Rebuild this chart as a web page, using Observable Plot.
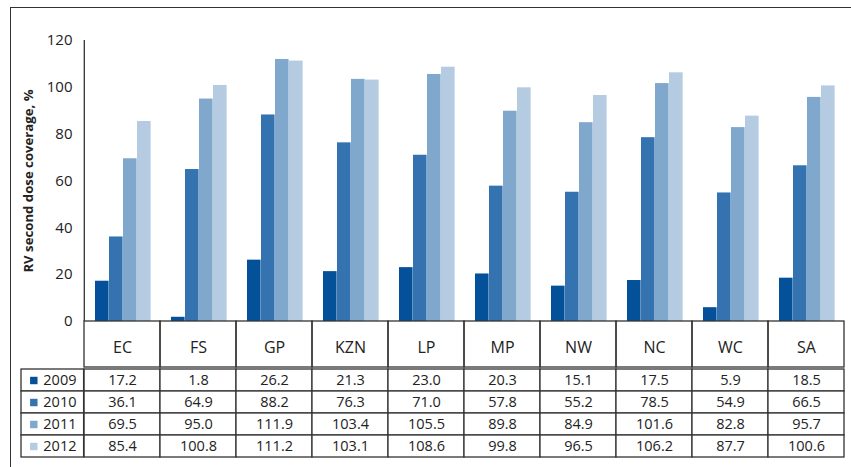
<!DOCTYPE html>
<html><head><meta charset="utf-8">
<script src="https://cdn.jsdelivr.net/npm/d3@7"></script>
<script src="https://cdn.jsdelivr.net/npm/@observablehq/plot@0.6"></script>
<style>
body{margin:0;background:#fff;font-family:"Open Sans",sans-serif;}
#wrap{position:relative;width:851px;height:467px;overflow:hidden;background:#fff;}
#border{position:absolute;left:10px;top:7px;right:-2px;bottom:-2px;border-left:1.3px solid #333;border-top:1.3px solid #333;}
#chart{position:absolute;left:0;top:0;}
#table{position:absolute;left:0;top:366px;}
svg{overflow:visible;}
</style></head><body>
<div id="wrap"><div id="border"></div><div id="chart"></div><div id="table"></div></div>
<script>
const categories = ["EC","FS","GP","KZN","LP","MP","NW","NC","WC","SA"];
const years = ["2009","2010","2011","2012"];
const v2009 = [17.2,1.8,26.2,21.3,23.0,20.3,15.1,17.5,5.9,18.5];
const v2010 = [36.1,64.9,88.2,76.3,71.0,57.8,55.2,78.5,54.9,66.5];
const v2011 = [69.5,95.0,111.9,103.4,105.5,89.8,84.9,101.6,82.8,95.7];
const v2012 = [85.4,100.8,111.2,103.1,108.6,99.8,96.5,106.2,87.7,100.6];
const yTicks = [0,20,40,60,80,100,120];
const colors = ["#04519a","#3473b0","#80a7cc","#b4cbe2"];
const yLabel = "RV second dose coverage, %";

const series = [v2009, v2010, v2011, v2012];
const rows = years.flatMap((y, i) => categories.map((c, j) => ({year: y, cat: c, value: series[i][j], idx: i})));

const W = 851, mL = 82, mR = 5;
const band = (W - mL - mR) / categories.length;
const barW = 14, groupOff = 11;
const ink = "#333";

const barMarks = years.map((y, i) => Plot.barY(rows.filter(d => d.idx === i), {
  x: "cat", y: "value", fill: colors[i],
  insetLeft: groupOff + barW * i,
  insetRight: band - groupOff - barW * (i + 1)
}));

const chart = Plot.plot({
  width: W, height: 367,
  marginTop: 40, marginBottom: 46, marginLeft: mL, marginRight: mR,
  style: {fontFamily: "Open Sans", background: "transparent"},
  x: {type: "band", domain: categories, padding: 0, axis: null},
  y: {domain: [0, 120], axis: null},
  marks: [
    ...barMarks,
    Plot.barY(categories, {x: d => d, y1: 0, y2: 0, insetBottom: -46, fill: "none", stroke: ink, strokeWidth: 1.3}),
    Plot.ruleX([0], {x: () => categories[0], dx: -band / 2, y1: 0, y2: 120, stroke: ink, strokeWidth: 1.3}),
    Plot.axisY({ticks: yTicks, tickSize: 0, tickPadding: 10, fontSize: 15, label: null, fill: "#222"}),
    Plot.axisX({tickSize: 0, tickPadding: 20, fontSize: 16, label: null, fill: "#222"}),
    Plot.text([yLabel], {frameAnchor: "left", textAnchor: "middle", dx: -54, rotate: -90, fontSize: 13.2, fontWeight: "bold", fill: "#222"})
  ]
});
document.getElementById("chart").append(chart);

const table = Plot.plot({
  width: W, height: 101,
  marginTop: 1, marginBottom: 9, marginLeft: mL, marginRight: mR,
  style: {fontFamily: "Open Sans", background: "transparent"},
  x: {type: "band", domain: categories, padding: 0, axis: null},
  y: {type: "band", domain: years, padding: 0, axis: null},
  marks: [
    Plot.cell(rows, {x: "cat", y: "year", fill: "white", stroke: ink, strokeWidth: 1.3}),
    Plot.cell(years, {x: () => categories[0], y: d => d, insetLeft: -63, insetRight: band, fill: "white", stroke: ink, strokeWidth: 1.3}),
    Plot.text(rows, {x: "cat", y: "year", text: d => d.value.toFixed(1), fontSize: 14.5, fill: "#222"}),
    Plot.dot(years, {x: () => categories[0], y: d => d, dx: -88.7, symbol: "square", r: 4.2, fill: (d, i) => colors[i], stroke: "none"}),
    Plot.text(years, {x: () => categories[0], y: d => d, dx: -79.2, textAnchor: "start", fontSize: 14.5, fill: "#222"})
  ]
});
document.getElementById("table").append(table);
</script>
</body></html>
